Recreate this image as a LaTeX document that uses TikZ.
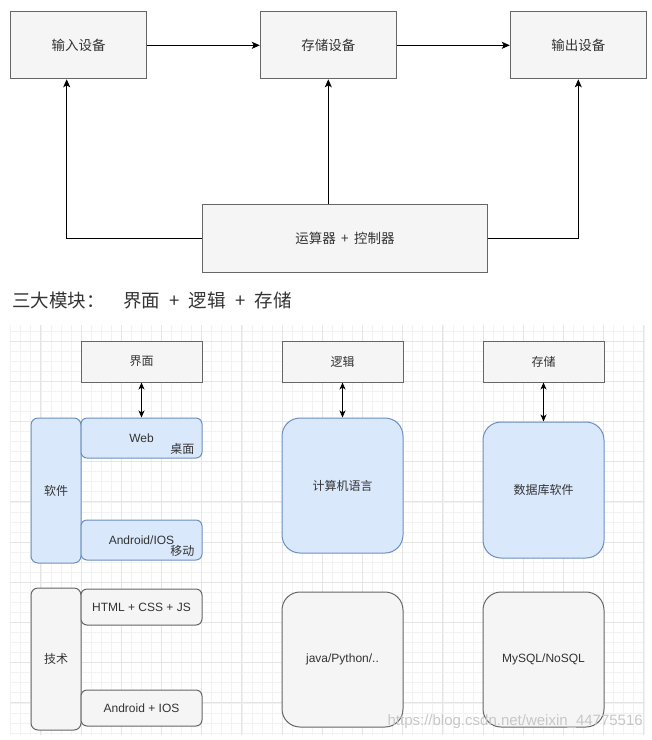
\documentclass[tikz,border=0pt]{standalone}
\usepackage{fontspec}
\setmainfont{Liberation Sans}
\newfontfamily\cjk{Noto Sans CJK SC}
\usetikzlibrary{positioning,arrows.meta}
\definecolor{boxgray}{HTML}{F5F5F5}
\definecolor{linegray}{HTML}{666666}
\definecolor{boxblue}{HTML}{DAE8FC}
\definecolor{lineblue}{HTML}{6C8EBF}
\definecolor{txtgray}{HTML}{333333}

\begin{document}
\begin{tikzpicture}[x=1pt, y=-1pt,
    unit/.style={draw=linegray, fill=boxgray, line width=1pt, minimum width=136pt, minimum height=67pt, inner sep=0pt, text=txtgray, font=\cjk\fontsize{13.5}{16}\selectfont},
    flow/.style={line width=1pt, -{Stealth[length=8pt, width=7pt, inset=2pt]}},
    head/.style={draw=linegray, fill=boxgray, line width=1pt, minimum width=121pt, minimum height=41pt, inner sep=0pt, text=txtgray, font=\cjk\fontsize{12}{14}\selectfont},
    bluebox/.style={draw=lineblue, fill=boxblue, line width=1pt, inner sep=0pt, text=txtgray, font=\cjk\fontsize{12}{14}\selectfont},
    graybox/.style={draw=linegray, fill=boxgray, line width=1pt, inner sep=0pt, text=txtgray, font=\fontsize{12}{14}\selectfont},
    tag/.style={inner sep=0pt, text=txtgray, font=\cjk\fontsize{12}{14}\selectfont},
    dbl/.style={line width=1pt, {Stealth[length=7pt, width=6pt, inset=2pt]}-{Stealth[length=7pt, width=6pt, inset=2pt]}},
    minorline/.style={draw=black!5, line width=0.6pt},
    majorline/.style={draw=black!10, line width=0.8pt}
]
    \useasboundingbox (0,0) rectangle (652,740);

    % upper part: von Neumann units
    \node[unit] (input) at (78.7,45.3) {输入设备};
    \node[unit] (store) at (328.3,45.3) {存储设备};
    \node[unit] (output) at (578.3,45.3) {输出设备};
    \node[unit, minimum width=284.6pt, minimum height=68.3pt] (alu) at (345,238.2) {运算器\hspace{0.4em}+\hspace{0.4em}控制器};

    \draw[flow] (input) -- (store);
    \draw[flow] (store) -- (output);
    \draw[flow] (alu.west) -| ([xshift=-12pt]input.south);
    \draw[flow] (store.south |- alu.north) -- (store.south);
    \draw[flow] (alu.east) -| (output.south);

    % heading
    \node[anchor=west, inner sep=0pt, text=txtgray, font=\cjk\fontsize{18.5}{22}\selectfont] (title) at (12,301) {三大模块：\hspace{1em}界面\hspace{0.5em}+\hspace{0.5em}逻辑\hspace{0.5em}+\hspace{0.5em}存储};

    % grid paper behind the lower part
    \foreach \i in {-7,...,56}
        \draw[minorline] ({81+\i*10.05},325) -- ({81+\i*10.05},735);
    \foreach \j in {-1,...,39}
        \draw[minorline] (10,{341+\j*10.05}) -- (645,{341+\j*10.05});
    \foreach \i in {-1,...,14}
        \draw[majorline] ({81+\i*40.2},325) -- ({81+\i*40.2},735);
    \foreach \j in {0,...,9}
        \draw[majorline] (10,{341+\j*40.2}) -- (645,{341+\j*40.2});

    % three modules (top row)
    \node[head] (ui) at (141.5,361.5) {界面};
    \node[head] (logic) at (342.5,361.5) {逻辑};
    \node[head] (save) at (543.5,361.5) {存储};

    % left column: software and techniques
    \node[bluebox, rounded corners=7pt, minimum width=50pt, minimum height=145pt] (soft) at (56,490.5) {软件};
    \node[bluebox, rounded corners=6pt, minimum width=121pt, minimum height=40pt, font=\fontsize{12}{14}\selectfont] (web) at (141.5,438) {Web};
    \node[tag, above left=4pt and 8pt of web.south east] (desk) {桌面};
    \node[bluebox, rounded corners=6pt, minimum width=121pt, minimum height=40pt, font=\fontsize{12}{14}\selectfont] (app) at (141.5,540) {Android/IOS};
    \node[tag, above left=4pt and 8pt of app.south east] (mobile) {移动};

    \node[graybox, rounded corners=7pt, minimum width=50pt, minimum height=142pt, font=\cjk\fontsize{12}{14}\selectfont] (tech) at (56,659) {技术};
    \node[graybox, rounded corners=6pt, minimum width=121pt, minimum height=36pt] (front) at (141.5,607) {HTML + CSS + JS};
    \node[graybox, rounded corners=6pt, minimum width=121pt, minimum height=36pt] (native) at (141.5,708) {Android + IOS};

    % middle and right columns
    \node[bluebox, rounded corners=18pt, minimum width=121pt, minimum height=135pt] (lang) at (342.5,485.5) {计算机语言};
    \node[graybox, rounded corners=18pt, minimum width=121pt, minimum height=135pt] (java) at (342.5,659.5) {java/Python/..};
    \node[bluebox, rounded corners=18pt, minimum width=121pt, minimum height=136pt] (db) at (543.5,490) {数据库软件};
    \node[graybox, rounded corners=18pt, minimum width=121pt, minimum height=135pt] (sql) at (543.5,659.5) {MySQL/NoSQL};

    \draw[dbl] (ui) -- (web);
    \draw[dbl] (logic) -- (lang);
    \draw[dbl] (save) -- (db);

    % watermark
    \node[anchor=east, inner sep=0pt, text=black!22, font=\fontsize{15}{18}\selectfont] (mark) at (643,722) {https://blog.csdn.net/weixin\_44775516};

\end{tikzpicture}
\end{document}
